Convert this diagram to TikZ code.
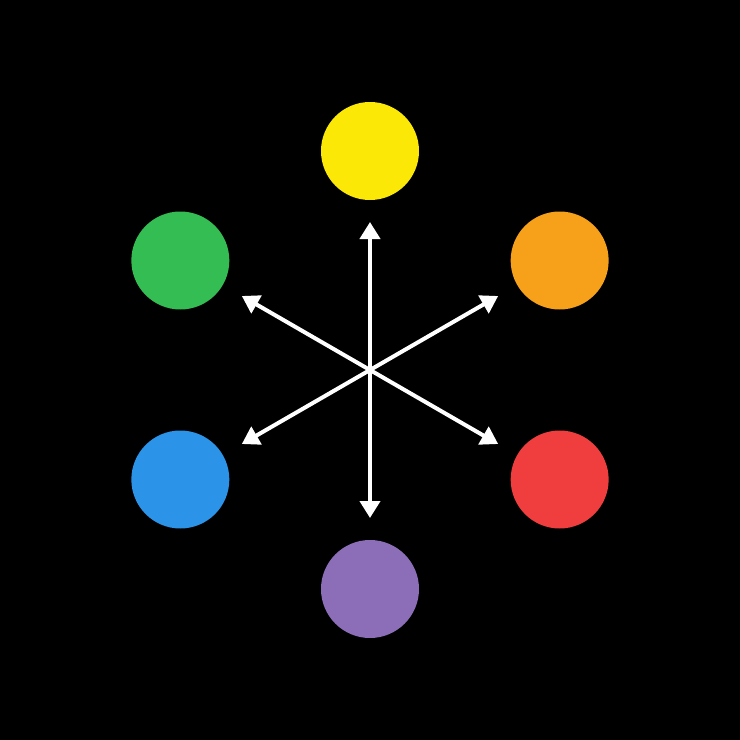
\documentclass[tikz,border=0pt]{standalone}
\usetikzlibrary{arrows.meta}
\definecolor{cyellow}{HTML}{FBE806}
\definecolor{corange}{HTML}{F7A11A}
\definecolor{cred}{HTML}{F03E3E}
\definecolor{cpurple}{HTML}{8B6DB8}
\definecolor{cblue}{HTML}{2B93E8}
\definecolor{cgreen}{HTML}{33BD52}
\begin{document}
\begin{tikzpicture}[x=1pt, y=1pt, >={Triangle[length=17pt, width=20pt]},
	hue/.style={circle, minimum size=98pt, inner sep=0pt},
	spoke/.style={white, line width=4pt, ->}]
		% Background
		\fill[black] (-370,-370) rectangle (370,370);
		\useasboundingbox (-370,-370) rectangle (370,370);
		
		% Colours in a circle
		\node[hue, fill=cyellow] (yellow) at (90:219) {};
		\node[hue, fill=corange] (orange) at (30:219) {};
		\node[hue, fill=cred] (red) at (-30:219) {};
		\node[hue, fill=cpurple] (purple) at (-90:219) {};
		\node[hue, fill=cblue] (blue) at (-150:219) {};
		\node[hue, fill=cgreen] (green) at (150:219) {};
		
		% Arrow ends
		\coordinate (c) at (0,0);
		\coordinate (e1) at (90:148);
		\coordinate (e2) at (30:148);
		\coordinate (e3) at (-30:148);
		\coordinate (e4) at (-90:148);
		\coordinate (e5) at (-150:148);
		\coordinate (e6) at (150:148);
		
		% Arrows
		\draw[spoke] (c) -- (e1);
		\draw[spoke] (c) -- (e2);
		\draw[spoke] (c) -- (e3);
		\draw[spoke] (c) -- (e4);
		\draw[spoke] (c) -- (e5);
		\draw[spoke] (c) -- (e6);
		
	\end{tikzpicture}
\end{document}
